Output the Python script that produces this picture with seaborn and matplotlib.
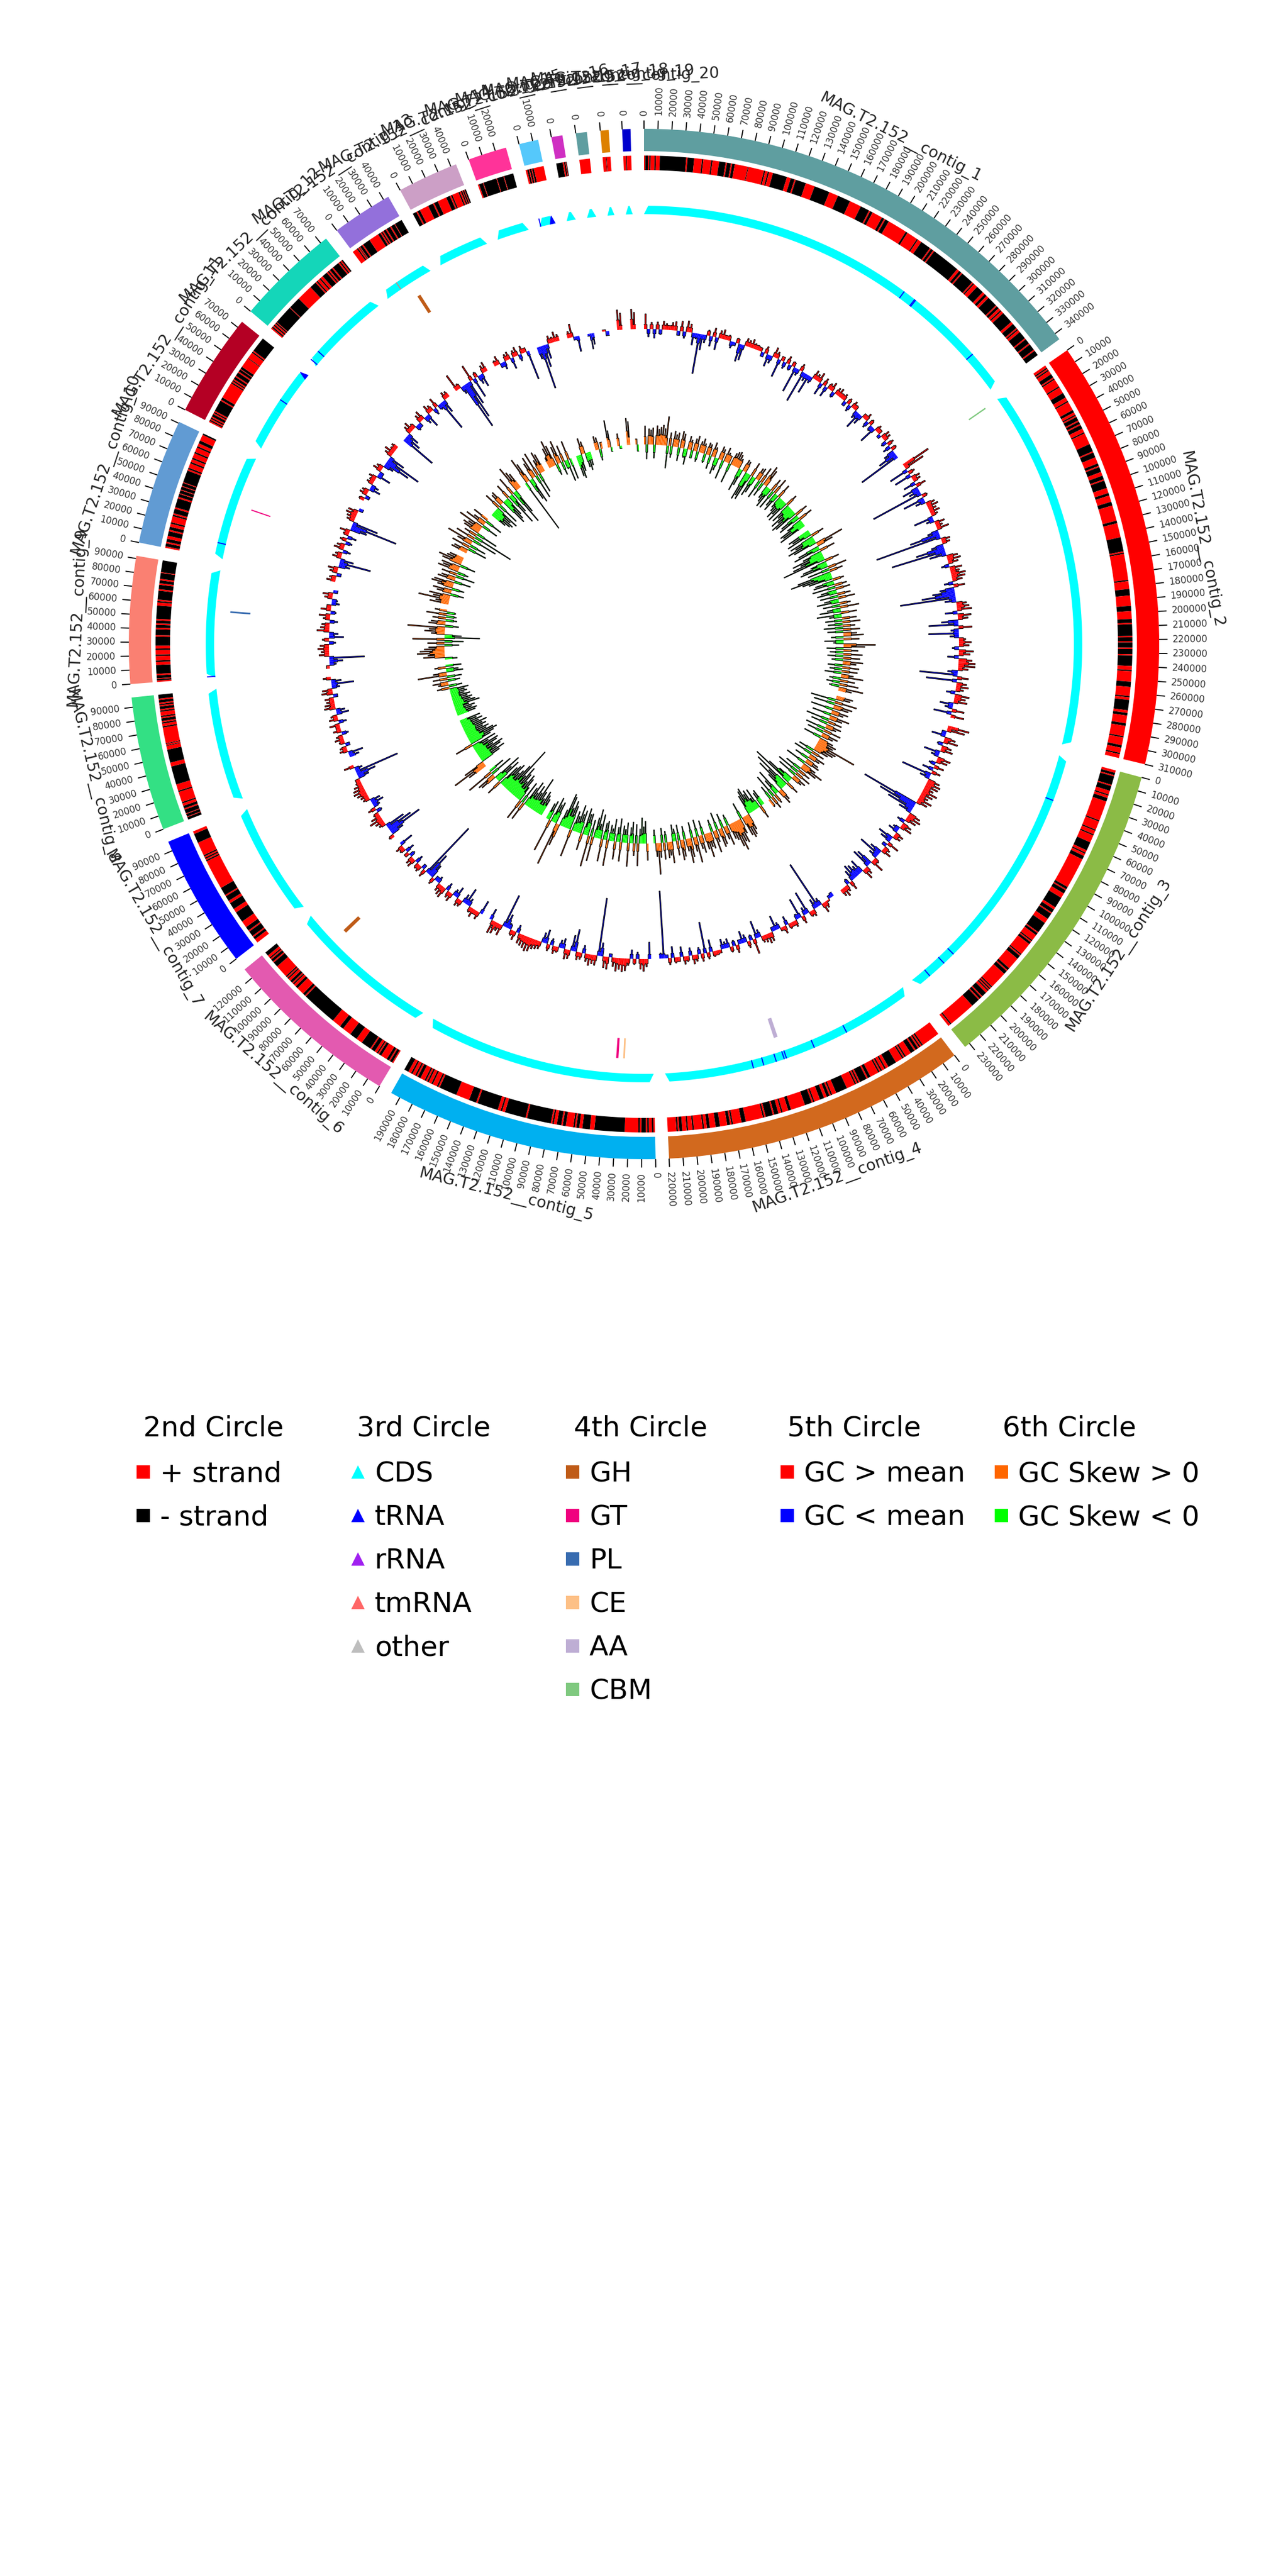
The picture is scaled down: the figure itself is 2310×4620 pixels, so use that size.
import numpy as np
import matplotlib
matplotlib.use("Agg")
import matplotlib.pyplot as plt
from matplotlib.lines import Line2D
import seaborn as sns

sns.set_theme(style="white")
plt.rcParams['font.family'] = 'DejaVu Sans'

# contigs, kb
contig_sizes = [345, 310, 234, 220, 197, 128, 97, 97, 92, 91, 75, 75, 44, 44, 28, 14, 8, 8, 6, 6]
contig_colors = ["#5f9ea0", "#ff0000", "#8bbb46", "#d2691e", "#00b0f0", "#e35ab0", "#0000ff", "#33e084", "#fa8072", "#619bd3",
                 "#b40024", "#14d6b9", "#9370db", "#cc9fc6", "#ff3399", "#55c8fb", "#cf2fc2", "#5f9ea0", "#dd8000", "#0000cd"]

# 2nd circle: run lengths in kb, alternating + / - and starting with +
strand_1 = [1,2,1,1,3,1,3,20,1,5,6,1,6,1,5,5,1,3,1,2,10,.5,12,1,2,1,3,11,3,3,1,8,7,12,7,10,9,7,1,2,8,2,1,3,15,1.5,8.5,1,3,8,1,2,1,22,2,2,1,10,1,1,3,6,2,2,2,8,1,2,2,1,2,9,2,4,1,1,2,6,1,4,1,5,1,4]
strand_2 = [2,1,1,1,3,3,1,1,6,1,5,4,3,1,7,2,2,1,1,3,1,2,1,3,3,1,9,6,1,4,5,2,1,4,3,3,1,6,4,2,5,3,12,2,11,11,1,1,20,1,6,5,8,4,6,3,1,9,1,3,1,4,1,4,1,8,3,1,8,4,7,1,2,8,2,2,6,2,8,1,6,2,4,1,3,0]
strand_3 = [2,2,1,7,1,4,3,1,2,3,16,1,7,1,3,1,6,7,2,1,2,3,25,2,1,3,4,9,2,3,1,5,4,9,1,2,5,1,1,2,10,1,1,3,10,2,1,3,14,1,1,1,1,1,2,4,1,2,1,7,22,1,2,0]
strand_4 = [13,1,1,1,1,2,1,3,4,1,1,1,5,6,2,1,2,1,1,1,6,2,1,5,1,1,1,1,6,8,3,1,1,2,2,3,4,1,1,5,10,2,4,1,2,3,1,5,1,1,12,3,6,1,1,2,5,3,4,2,2,1,6,1,3,1,3,2,1,1,6]
strand_5 = [1,1,2,1,1,3,1,1,9,20,3,5,2,2,1,1,5,2,1,3,2,1,1,16,1,14,2,1,2,14,1,5,9,12,1,1,3,1,2,1,1,1,3,2,1,1,2,1,2,3]
strand_6 = [1,2,1,2,5,2,1,1,2,3,1,8,5,6,7,3,7,28,1,2,6,2,2,1,1,2,2,1,1,1,10,4,1,2,1,1,2,3]
strand_7 = [3,2,1,4,1,3,5,8,3,5,2,4,1,6,22,1,1,1,1,1,10,7,2]
strand_8 = [0,2,.5,2,.5,3,1,2,2,1,8,1,5,14,3,10,3,.5,1,.5,12,1,2,1,1,2,1,1,3,1,1,2,1,1,1,2,1,3]
strand_9 = [1,1,.5,2,1,6,2,1,3,1,3,1,2,6,1,4,1,2,1,2,1,9,2,1,1,6,1,3,1,2,1,4,.5,8]
strand_10 = [1,2,1,2,2,3,1,2,2,1,4,1,1,3,1,6,1,2,.5,2,.5,2,.5,2,.5,8,1,1,3,1,2,1,3,1,3,1,2,2,4,1]
strand_11 = [1,1,1,1,1,2,1,1,1,9,1,2,13,1,1,1,1,2,1,3,1,2,.5,2,8,.5,5,1,1,12]
strand_12 = [1,1,1,1,1,1,.5,14,.5,9,12,5,1,1,2,1,2,4,1,1,1,2,1,5,1,1,1,1]
strand_13 = [4,1,1,.5,.5,2,1,6,8,2,1,1,1,2,1,3,1,3,.5,6]
strand_14 = [0,3,1,2,7,4,1,3,7,3,1,1,5,1,1,1,.5,1,.5,1]
strand_15 = [1,3,.5,10,.5,5,.5,7]
strand_16 = [1,1,.5,1,.5,1,6,0]
strand_17 = [0,5,1,1,.5,.5]
strand_18 = [8,0]
strand_19 = [2.5,.4,3,0]
strand_20 = [2,.6,3.4,0]
strand_runs = [strand_1, strand_2, strand_3, strand_4, strand_5, strand_6, strand_7, strand_8, strand_9, strand_10,
               strand_11, strand_12, strand_13, strand_14, strand_15, strand_16, strand_17, strand_18, strand_19, strand_20]

# 3rd circle: tRNA positions, kb, per contig number
trna_sites = {1: [234, 245, 246, 312], 3: [38, 193, 204, 220], 4: [61, 91, 116, 118, 125, 136, 145],
              9: [1], 10: [13], 11: [44], 12: [2, 11], 16: [1]}
trna_arrows = [(11, 70, 75), (16, 9, 14)]
tmrna_sites = {13: [14]}

# 4th circle: contig number, kb, colour name, width kb
cazymes = [(2, 1, "CBM", 1.2), (4, 119, "AA", 3.5), (5, 26, "CE", 1.5), (5, 32, "GT", 2), (6, 98, "GH", 3.2),
           (9, 57, "PL", 1.5), (10, 48, "GT", 1), (13, 24, "GH", 3)]
cazyme_colors = {"GH": "#bf5b17", "GT": "#f0027f", "PL": "#386cb0", "CE": "#fdc086", "AA": "#beaed4", "CBM": "#7fc97f"}

# 5th circle: GC content relative to the mean
gc_1 = [27,-14,12,-16,13,-9,15,11,8,14,16,-8,18,-12,20,15,-22,-10,-72,-28,-14,10,-18,16,-22,14,17,8,10,-12,
        -6,9,-32,-28,14,12,16,10,9,7,-8,13,-22,-14,18,12,-33,8,-12,14,-10,9,-47,-12,13,-58,-14,-35,-12,16,
        12,18,-22,14,-19,11,16,-10,13,15,9,12,-8,11,-12,13,9,-14,-31,-18,8,14,-12,10,-10,-31,12,8,-6,16,
        14,-10,12,-14,10,-20,-35,-78]
gc_2 = [53,38,-35,12,-31,16,14,-22,18,-30,-20,-96,10,-39,-18,16,20,14,18,12,-35,-14,18,12,22,-20,-55,-121,16,14,
        -22,-52,-99,-30,20,24,18,-14,22,16,26,24,18,-16,20,-26,-40,-60,-100,-20,18,22,26,-22,24,18,-30,-53,24,-14,
        -54,-16,12,22,18,-12,26,20,-20,24,30,30,18,-18,-68,20,-55,18,22,14,-16,26,20,24,-24,-14,22,-32,24]
gc_3 = [39,32,-8,-25,20,26,-10,18,22,-29,-14,24,20,-12,18,-20,16,-55,-18,22,26,24,18,28,22,16,26,20,-105,-70,
        -50,-24,22,26,20,-14,18,22,-12,-18,16,14,-28,-20,22,-8,12,18,-22,-41,-16,10,24,-30,-35,14,20,-26,-18,-24,
        -28,-20,16,-10,12,18,14]
gc_4 = [-8,-6,3,12,18,-14,-90,-18,12,10,-42,-14,14,-37,-10,12,8,10,-16,14,6,-12,-27,-8,16,18,14,12,-14,-32,
        27,-10,12,-14,-22,-8,14,-10,10,-16,-12,-18,6,8,10,-22,12,-56,14,-12,12,16,-14,10,14,-18,8,10,-20,12,
        -6,-121,-10]
gc_5 = [-30,14,22,18,-12,10,-16,12,22,24,20,24,16,-6,22,20,-24,-104,18,16,20,14,-14,12,14,-40,-28,16,18,-18,
        -14,10,14,-12,12,-25,-18,14,16,18,24,26,22,20,18,-14,16,10,-10,-25,-61,20,14,22,24,-20]
gc_6 = [-25,14,8,16,10,-14,-31,-16,12,14,-20,-12,16,12,-14,20,18,14,-12,-8,12,-25,-45,-108,14,-8,12,10,-14,16,
        14,-10,8,-16,10,14,-25]
gc_7 = [10,-24,-64,-48,-36,12,16,24,18,10,-10,14,-12,-22,-18,12,14,18,22,20,16,10,8,-20,-35,-81,-14,18]
gc_8 = [-18,-27,14,12,-8,10,16,12,-12,14,8,18,-14,16,12,-22,-16,20,18,14,16,-8,20,18,-14,-40,-18,14]
gc_9 = [6,-12,-24,-63,18,14,20,16,-12,12,-26,-16,22,16,14,-14,12,20,-10,18,8,-14,-10,14,18,-8]
gc_10 = [16,12,-8,14,18,-20,-57,-24,16,12,-14,18,14,-12,12,-16,10,18,-30,-85,-47,14,16,20,18,-8]
gc_11 = [10,-8,14,12,-20,-14,12,10,14,-25,-8,16,12,-18,-47,-66,-30,14,18,10,12]
gc_12 = [-65,-30,-22,14,18,10,-10,-8,14,18,-14,-25,16,12,-12,18,-10,-57,-24,14,12]
gc_13 = [32,10,-14,-88,-70,-45,30,-37,10,-16,-24,14,18]
gc_14 = [10,16,-8,-14,12,14,-20,12,16,-12,14,8,-53]
gc_15 = [-22,-79,-40,-26,14,10,18,12]
gc_16 = [12,24,-6,-28]
gc_17 = [-4,-28,-20]
gc_18 = [3,-8]
gc_19 = [36,30]
gc_20 = [36,30]
gc_values = [gc_1, gc_2, gc_3, gc_4, gc_5, gc_6, gc_7, gc_8, gc_9, gc_10,
             gc_11, gc_12, gc_13, gc_14, gc_15, gc_16, gc_17, gc_18, gc_19, gc_20]

# 6th circle: GC skew
skew_1 = [33,-26,28,26,30,-24,34,28,32,36,30,52,-40,24,-20,28,22,26,-24,30,26,-16,-28,24,18,-14,22,28,-18,20,
          26,18,-16,22,20,-24,26,18,-30,-22,24,20,-34,26,18,14,-36,22,26,28,24,18,-42,-30,22,20,-53,-44,-50,26,
          -38,-30,22,24,-34,30,-26,38,32,-24,-30,-38,24,-36,30,-26,-34,26,-22,-28,-40,-30,-42,22,-38,-28,-46,-34,-50,-44,
          24,-36,-42,26,-30,-48,-44,-52]
skew_2 = [-42,-36,-48,24,-46,-38,-54,-44,52,30,-40,-50,28,-36,-58,-44,-60,-80,26,-30,-46,-52,34,-40,24,-62,-76,-55,-44,20,
          -34,-38,22,-42,26,-28,-36,24,-32,30,-26,-40,20,-30,34,-24,-38,28,-44,-22,26,-30,32,-26,22,-34,30,-28,24,36,
          -22,28,-34,-18,57,38,-30,26,-24,34,-28,30,-20,36,24,-26,30,-22,28,-30,22,40,-20,26,-24,34,-18,44,24]
skew_3 = [30,26,-45,40,-38,34,28,-40,30,22,-34,36,24,-42,26,-30,28,20,-36,32,-30,30,22,-32,26,34,30,76,40,36,
          28,-28,24,-34,30,22,-26,24,28,-38,26,43,32,-30,24,-42,30,-36,26,20,-28,-50,-78,24,-70,-40,-60,-34,22,28,
          -48,-30,18,-44,24,-26,16]
skew_4 = [-30,-26,24,-38,-22,-40,-34,-48,-44,-36,30,38,42,36,-30,28,44,40,55,46,32,28,-20,36,24,-26,30,34,-32,22,
          40,-22,30,26,44,28,-26,32,24,-30,47,26,-28,34,44,22,-24,30,36,-28,26,-22,-30,38,24,28,-20,30,-26,26,
          56,24,-24]
skew_5 = [30,-40,-30,-46,-26,40,-34,22,-38,-28,42,-36,-24,-30,34,-42,-26,32,-40,-22,-28,46,-34,-30,40,-44,-26,-52,-36,44,
          -30,56,-40,-38,-48,30,-42,-34,-50,-28,-36,50,-44,-52,-38,-58,-62,-30,40,79,-40,-34,-46,60,-36,-30]
skew_6 = [-32,-38,-44,-28,-40,-65,-34,-46,-30,-50,-36,34,-42,38,-28,-44,-50,-34,-48,-60,-40,-95,-58,-44,-36,-52,-46,-40,28,-48,
          -34,-54,30,34,-42,50,-30]
skew_7 = [36,65,40,-38,-50,-36,-46,-52,-34,-44,-48,-30,-46,32,-40,-48,-56,-50,-38,-44,-34,-42,-36,-46,-32,-40,-30,-38]
skew_8 = [-34,-38,-30,-36,-26,-47,-40,-32,-36,-28,-34,-24,-30,-26,-34,22,-24,18,28,-22,26,-26,52,24,-30,-22,20,-28]
skew_9 = [-22,38,30,49,44,36,28,-26,30,-34,57,-63,-30,24,36,28,67,-24,30,26,-20,24,-18,36,-16,22]
skew_10 = [34,24,56,30,38,-24,26,34,-22,28,40,36,-30,32,26,-34,28,-20,38,30,34,-28,36,44,30,26]
skew_11 = [30,26,-35,34,-30,28,49,-46,36,-74,24,-40,30,34,26,47,-30,38,24,-32,30]
skew_12 = [-30,-38,-42,-34,-46,30,-40,23,26,-50,-44,-36,28,-60,-38,34,-66,-46,48,36,30]
skew_13 = [-100,48,36,-40,-48,30,40,-44,44,-36,26,40,34]
skew_14 = [20,36,49,38,-20,32,42,-24,30,-16,-40,34,-38]
skew_15 = [-38,-42,-30,29,22,-26,-32,-24]
skew_16 = [25,22,-20,12]
skew_17 = [49,30,-8]
skew_18 = [22,-5]
skew_19 = [48,42]
skew_20 = [10,-12]
skew_values = [skew_1, skew_2, skew_3, skew_4, skew_5, skew_6, skew_7, skew_8, skew_9, skew_10,
               skew_11, skew_12, skew_13, skew_14, skew_15, skew_16, skew_17, skew_18, skew_19, skew_20]

# legend
legend_titles = ["2nd Circle", "3rd Circle", "4th Circle", "5th Circle", "6th Circle"]
legend_labels = [["+ strand", "- strand"], ["CDS", "tRNA", "rRNA", "tmRNA", "other"],
                 ["GH", "GT", "PL", "CE", "AA", "CBM"], ["GC > mean", "GC < mean"], ["GC Skew > 0", "GC Skew < 0"]]
legend_colors = [["#ff0000", "#000000"], ["#00ffff", "#0000ff", "#a020f0", "#ff6666", "#bebebe"],
                 [cazyme_colors[k] for k in legend_labels[2]], ["#ff0000", "#0000ff"], ["#ff6600", "#00ff00"]]
legend_markers = ["s", "^", "s", "s", "s"]
legend_title_x = [257, 640, 1029, 1412, 1798]
legend_x = [242, 627, 1012, 1397, 1781]

# radii are in pixels of the final picture
R_IDEO = (884, 924)
R_STRAND = (850, 876)
R_CDS = (771, 786)
R_CAZY = (708, 744)
R_GC = 565
R_SKEW = 358
GAP = 1.5
scale = (360 - GAP * len(contig_sizes)) / sum(contig_sizes)  # degrees per kb

palette = sns.color_palette(contig_colors)
fig = plt.figure(figsize=(7.7, 15.4), dpi=300, facecolor="white")
ax = fig.add_axes([0, 0.5, 1, 0.5], projection="polar")
ax.set_theta_zero_location("N")
ax.set_theta_direction(-1)
ax.set_axis_off()


def band(start, end, r0, r1, color, inset=0.0):
    # tapered band for the gene track, ends are pointed like the gene arrows
    top = np.radians(np.linspace(start + inset, end - inset, 60))
    low = np.radians(np.linspace(end, start, 60))
    ax.fill(np.r_[top, low], np.r_[np.full(60, r1), np.full(60, r0)], color=color, lw=0, zorder=2)


def signal_track(values, start, size, base, up, down, low):
    # each window is drawn as a narrow spike on a low shoulder, so neighbours of one sign join up
    values = np.array(values, dtype=float)
    edges = np.radians(np.linspace(start, start + size * scale, len(values) + 1))
    width = np.diff(edges)
    next_v = np.r_[values[1:], 0]
    shoulder = np.minimum(np.abs(values), low)
    same = np.sign(values) == np.sign(next_v)
    shoulder = np.where(same, np.maximum(shoulder, 0.6 * np.minimum(np.abs(values), np.abs(next_v))), shoulder)
    shoulder = shoulder * np.sign(values)
    x, y, col = [], [], []
    for k, v in enumerate(values):
        x += [edges[k], edges[k] + 0.3 * width[k], edges[k] + 0.7 * width[k]]
        y += [shoulder[k], v, shoulder[k]]
        col += [up if v > 0 else down] * 3
    x = np.array(x + [edges[-1]])
    y = np.array(y + [y[-1]])
    ax.bar(x[:-1], y[:-1], width=np.diff(x), bottom=base, align="edge", color=col, lw=0, zorder=3)
    sns.lineplot(x=x, y=base + y, color="black", lw=0.27, ax=ax, zorder=4,
                 estimator=None, sort=False, errorbar=None, drawstyle="steps-post")


pos = 0.0
for i, size in enumerate(contig_sizes):
    num = i + 1
    end = pos + size * scale
    mid = (pos + end) / 2

    # 1st circle, contig band
    ax.bar(np.radians(pos), R_IDEO[1] - R_IDEO[0], width=np.radians(size * scale), bottom=R_IDEO[0],
           align="edge", color=palette[i], lw=0)

    # ticks every 10 kb
    for kb in range(0, size + 1, 10):
        ang = pos + kb * scale
        ax.vlines(np.radians(ang), 924, 939, color="black", lw=0.45)
        if ang < 180:
            rot, ha = 90 - ang, "left"
        else:
            rot, ha = 270 - ang, "right"
        ax.text(np.radians(ang), 948, str(kb * 1000), fontsize=4, color="#333333", rotation=rot, ha=ha, va="center",
                rotation_mode="anchor")

    # contig name
    rot = 180 - mid if 90 < mid < 270 else -mid
    ax.text(np.radians(mid), 1018, f"MAG.T2.152__contig_{num}", fontsize=6.8, color="#222222", rotation=rot,
            ha="center", va="center", rotation_mode="anchor")

    # 2nd circle, strands
    runs = np.array(strand_runs[i], dtype=float)
    stops = np.cumsum(runs) / runs.sum() * size * scale + pos
    starts = np.r_[pos, stops[:-1]]
    colors = ["#ff0000" if k % 2 == 0 else "#000000" for k in range(len(runs))]
    ax.bar(np.radians(starts), R_STRAND[1] - R_STRAND[0], width=np.radians(stops - starts), bottom=R_STRAND[0],
           align="edge", color=colors, lw=0)

    # 3rd circle, genes
    band(pos, end, R_CDS[0], R_CDS[1], "#00ffff", inset=min(0.55, size * scale * 0.4))
    for kb in trna_sites.get(num, []):
        ax.bar(np.radians(pos + kb * scale), R_CDS[1] - R_CDS[0], width=np.radians(0.14), bottom=R_CDS[0],
               color="#0000ff", lw=0, zorder=3)
    for kb in tmrna_sites.get(num, []):
        ax.bar(np.radians(pos + kb * scale), R_CDS[1] - R_CDS[0], width=np.radians(0.1), bottom=R_CDS[0],
               color="#ff6666", lw=0, zorder=3)
    for c, a, b in trna_arrows:
        if c == num:
            band(pos + a * scale, pos + b * scale, R_CDS[0], R_CDS[1], "#0000ff", inset=0.35)

    # 4th circle
    for c, kb, name, w in cazymes:
        if c == num:
            ax.bar(np.radians(pos + kb * scale), R_CAZY[1] - R_CAZY[0], width=np.radians(w * scale), bottom=R_CAZY[0],
                   color=cazyme_colors[name], lw=0)

    # 5th and 6th circles
    signal_track(gc_values[i], pos, size, R_GC, "#ff0000", "#0000ff", 8)
    signal_track(skew_values[i], pos, size, R_SKEW, "#ff6600", "#00ff00", 14)

    pos = end + GAP

ax.set_xlim(0, 2 * np.pi)
ax.set_ylim(0, 1155)
ax.set_xlabel("")
ax.set_ylabel("")

for title, title_x, labels, cols, marker, x in zip(legend_titles, legend_title_x, legend_labels, legend_colors,
                                                   legend_markers, legend_x):
    fig.text(title_x / 2310, 1 - 2562 / 4620, title, fontsize=12, color="black", va="center", ha="left")
    handles = [Line2D([], [], marker=marker, ls="none", color=c, markersize=5.6, markeredgewidth=0) for c in cols]
    fig.legend(handles=handles, labels=labels, loc="upper left", frameon=False, fontsize=12, labelcolor="black",
               bbox_to_anchor=(x / 2310, 1 - 2619 / 4620), borderaxespad=0, borderpad=0,
               handlelength=0.6, handletextpad=0.3, labelspacing=0.6)

fig.savefig("out.png", dpi=300, facecolor="white")
